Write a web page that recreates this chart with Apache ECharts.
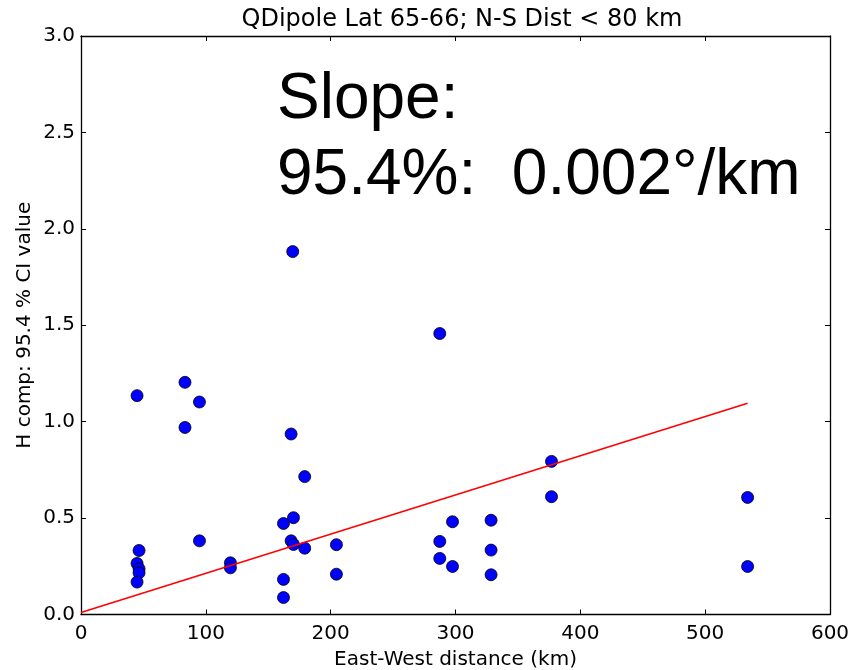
<!DOCTYPE html>
<html>
<head>
<meta charset="utf-8">
<script src="https://cdn.jsdelivr.net/npm/echarts@6/dist/echarts.min.js"></script>
<style>
  html, body { margin: 0; padding: 0; background: #fff; }
  #chart { width: 868px; height: 670px; }
</style>
</head>
<body>
<div id="chart"></div>
<script>
// East-West station separation (km) and the 95.4 % CI value of the H component
const distKm = [
  44.9, 83.3, 94.9, 83.3, 168.3, 179.2, 170.2, 162.2, 94.9, 168.3,
  170.2, 179.2, 46.5, 44.9, 46.5, 46.5, 44.9, 119.7, 119.7, 162.2,
  162.2, 204.6, 204.6, 169.6, 287.4, 297.6, 328.5, 287.4, 287.4, 297.6,
  328.5, 328.5, 376.9, 376.9, 534.0, 534.0
];
const ciValue = [
  1.135, 1.204, 1.102, 0.970, 0.936, 0.715, 0.502, 0.472, 0.382, 0.382,
  0.363, 0.344, 0.332, 0.265, 0.237, 0.216, 0.168, 0.268, 0.242, 0.182,
  0.088, 0.362, 0.209, 1.882, 1.457, 0.481, 0.489, 0.379, 0.291, 0.249,
  0.334, 0.206, 0.794, 0.611, 0.607, 0.249
];

// Least-squares fit end points
const fitX = [0, 534];
const fitY = [0.01, 1.095];

const xTicks = [0, 100, 200, 300, 400, 500, 600];
const yTicks = [0.0, 0.5, 1.0, 1.5, 2.0, 2.5, 3.0];

const titleText = 'QDipole Lat 65-66; N-S Dist < 80 km';
const xName = 'East-West distance (km)';
const yName = 'H comp: 95.4 % CI value';
const noteLines = ['Slope:', '95.4%:  0.002°/km'];

const FONT = 'DejaVu Sans';
const chart = echarts.init(document.getElementById('chart'), null, { renderer: 'canvas' });

const axisLine = { show: true, onZero: false, lineStyle: { color: '#000', width: 1.3 } };
const tickIn = { show: true, inside: true, length: 5, lineStyle: { color: '#000', width: 1 } };

chart.setOption({
  animation: false,
  backgroundColor: '#fff',
  title: {
    text: titleText,
    left: 457, top: 3, textAlign: 'center',
    textStyle: { fontFamily: FONT, fontSize: 24, fontWeight: 'normal', color: '#000' }
  },
  grid: {
    left: 81, right: 38, top: 36, bottom: 55.5,
    containLabel: false, outerBoundsMode: 'none', show: false
  },
  xAxis: [{
    type: 'value', min: xTicks[0], max: xTicks[xTicks.length - 1], interval: 100,
    name: xName, nameLocation: 'middle', nameGap: 35,
    nameTextStyle: { fontFamily: FONT, fontSize: 20, color: '#000' },
    axisLine: axisLine, axisTick: tickIn, splitLine: { show: false },
    axisLabel: { fontFamily: FONT, fontSize: 20, color: '#000', margin: 9 }
  }, {
    type: 'value', position: 'top', min: xTicks[0], max: xTicks[xTicks.length - 1], interval: 100,
    axisLine: axisLine, axisTick: tickIn, splitLine: { show: false }, axisLabel: { show: false }
  }],
  yAxis: [{
    type: 'value', min: yTicks[0], max: yTicks[yTicks.length - 1], interval: 0.5,
    name: yName, nameLocation: 'middle', nameGap: 46, nameRotate: 90,
    nameMoveOverlap: false,
    nameTextStyle: { fontFamily: FONT, fontSize: 20, color: '#000' },
    axisLine: axisLine, axisTick: tickIn, splitLine: { show: false },
    axisLabel: { fontFamily: FONT, fontSize: 20, color: '#000', margin: 6,
      formatter: v => v.toFixed(1) }
  }, {
    type: 'value', position: 'right', min: yTicks[0], max: yTicks[yTicks.length - 1], interval: 0.5,
    axisLine: axisLine, axisTick: tickIn, splitLine: { show: false }, axisLabel: { show: false }
  }],
  series: [{
    type: 'scatter',
    data: distKm.map((d, i) => [d, ciValue[i]]),
    symbol: 'circle', symbolSize: 12,
    itemStyle: { color: '#0000ff', borderColor: '#000', borderWidth: 0.8, opacity: 1 },
    z: 2
  }, {
    type: 'line',
    data: fitX.map((d, i) => [d, fitY[i]]),
    symbol: 'none',
    lineStyle: { color: '#ff0000', width: 1.6 },
    z: 3
  }],
  graphic: [{
    type: 'text', left: 277, top: 62, z: 10,
    style: {
      text: noteLines.join('\n'),
      font: '64px "Liberation Sans", Arial, sans-serif',
      lineHeight: 76, fill: '#000'
    }
  }]
});
</script>
</body>
</html>
